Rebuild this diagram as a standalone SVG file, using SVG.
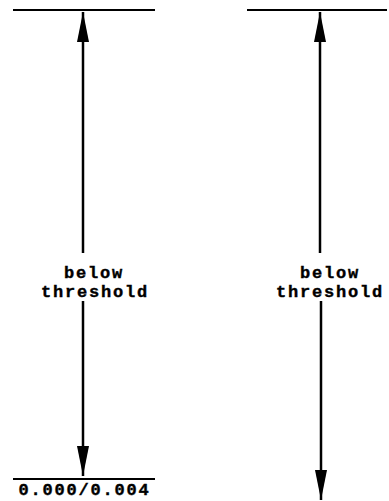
<svg xmlns="http://www.w3.org/2000/svg" width="389" height="501" viewBox="0 0 389 501">
  <style>
    .rule { stroke: #000; stroke-width: 2; fill: none; }
    .shaft { stroke: #000; stroke-width: 2.5; fill: none; }
    .lbl { font-family: "Liberation Mono", "DejaVu Sans Mono", monospace; font-weight: bold; font-size: 17px; letter-spacing: 1.8px; fill: #000; stroke: #000; stroke-width: 0.4; text-anchor: middle; }
  </style>
  <defs>
    <marker id="head" viewBox="0 0 30 12" refX="30" refY="6" markerWidth="30" markerHeight="12" markerUnits="userSpaceOnUse" orient="auto">
      <path d="M0,0 L30,6 L0,12 Z" fill="#000"/>
    </marker>
  </defs>

  <!-- left column -->
  <g id="left-top-limit">
    <line class="rule" x1="13" y1="10" x2="155" y2="10"/>
  </g>
  <g id="left-bottom-limit">
    <line class="rule" x1="13" y1="479" x2="155" y2="479"/>
    <text class="lbl" x="84.5" y="495">0.000/0.004</text>
  </g>
  <g id="left-label">
    <text class="lbl" x="94" y="278">below</text>
    <text class="lbl" x="95" y="297">threshold</text>
  </g>

  <!-- right column -->
  <g id="right-top-limit">
    <line class="rule" x1="247" y1="10" x2="387" y2="10"/>
  </g>
  <g id="right-label">
    <text class="lbl" x="330" y="278">below</text>
    <text class="lbl" x="330" y="297">threshold</text>
  </g>

  <g id="connectors">
    <line class="shaft" x1="83" y1="253" x2="83" y2="12" marker-end="url(#head)"/>
    <line class="shaft" x1="83" y1="301" x2="83" y2="476" marker-end="url(#head)"/>
    <line class="shaft" x1="320" y1="253" x2="320" y2="12" marker-end="url(#head)"/>
    <line class="shaft" x1="321" y1="301" x2="321" y2="500" marker-end="url(#head)"/>
  </g>
</svg>
